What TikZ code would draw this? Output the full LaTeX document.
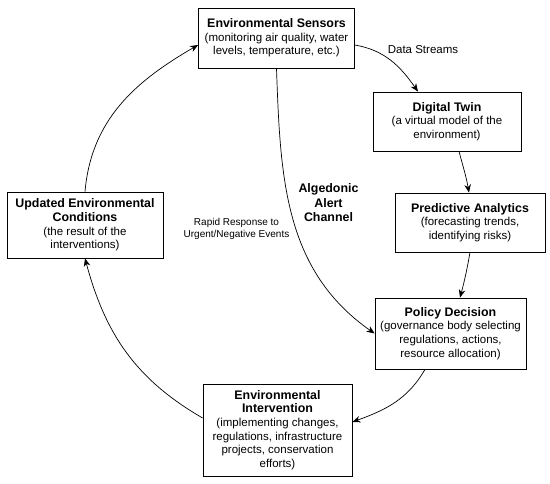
\documentclass[tikz,border=0pt]{standalone}
\usepackage{fontspec}
\setmainfont{Liberation Sans}
\usetikzlibrary{arrows.meta}
\newcommand{\boxtitle}[1]{{\fontsize{12.4}{14}\selectfont\bfseries #1}}
\tikzset{
  stage/.style={draw, line width=0.8pt, align=center, inner sep=2pt,
    font=\fontsize{11.5}{13.6}\selectfont},
  flow/.style={line width=0.7pt, -{Stealth[length=8pt,width=6.5pt,inset=2.5pt]}}
}
\begin{document}
\begin{tikzpicture}[x=1pt,y=1pt]
    \useasboundingbox (0,0) rectangle (550,484);
    %% Stages of the loop
    \node[stage, minimum width=156pt, minimum height=60pt] (sensors) at (276.5,446)
        {\boxtitle{Environmental Sensors}\\(monitoring air quality, water\\levels, temperature, etc.)};
    \node[stage, minimum width=148pt, minimum height=59pt] (twin) at (447,362.5)
        {\boxtitle{Digital Twin}\\(a virtual model of the\\environment)};
    \node[stage, minimum width=150pt, minimum height=59pt] (analytics) at (470,261.5)
        {\boxtitle{Predictive Analytics}\\(forecasting trends,\\identifying risks)};
    \node[stage, minimum width=151pt, minimum height=71pt] (policy) at (450.5,150.5)
        {\boxtitle{Policy Decision}\\(governance body selecting\\regulations, actions,\\resource allocation)};
    \node[stage, minimum width=149pt, minimum height=92pt] (intervention) at (277.5,54)
        {\boxtitle{Environmental}\\\boxtitle{Intervention}\\(implementing changes,\\regulations, infrastructure\\projects, conservation\\efforts)};
    \node[stage, minimum width=156pt, minimum height=66pt] (updated) at (85,259)
        {\boxtitle{Updated Environmental}\\\boxtitle{Conditions}\\(the result of the\\interventions)};
    %% Main loop
    \draw[flow] ([yshift=-7pt]sensors.east) to[out=-10,in=125] ([xshift=-29pt]twin.north);
    \draw[flow] ([xshift=12pt]twin.south) to[out=-75,in=100] ([xshift=-1pt]analytics.north);
    \draw[flow] (analytics.south) to[out=-100,in=75] ([xshift=9.5pt]policy.north);
    \draw[flow] ([xshift=-25.5pt]policy.south) to[out=-120,in=20] ([yshift=8pt]intervention.east);
    \draw[flow] ([yshift=12pt]intervention.west) to[out=150,in=-75] (updated.south);
    \draw[flow] (updated.north) to[out=85,in=210] ([yshift=-7pt]sensors.west);
    %% Algedonic channel
    \draw[flow] (sensors.south) to[out=-88,in=145] (policy.west);
    %% Labels
    \node[font=\fontsize{11.5}{13.6}\selectfont] (streams) at (423,434) {Data Streams};
    \node[align=center, font=\fontsize{12.4}{14.5}\selectfont\bfseries] (channel) at (328.5,281)
        {Algedonic\\Alert\\Channel};
    \node[align=center, font=\fontsize{10}{12}\selectfont] (rapid) at (236.5,255)
        {Rapid Response to\\Urgent/Negative Events};
\end{tikzpicture}
\end{document}
